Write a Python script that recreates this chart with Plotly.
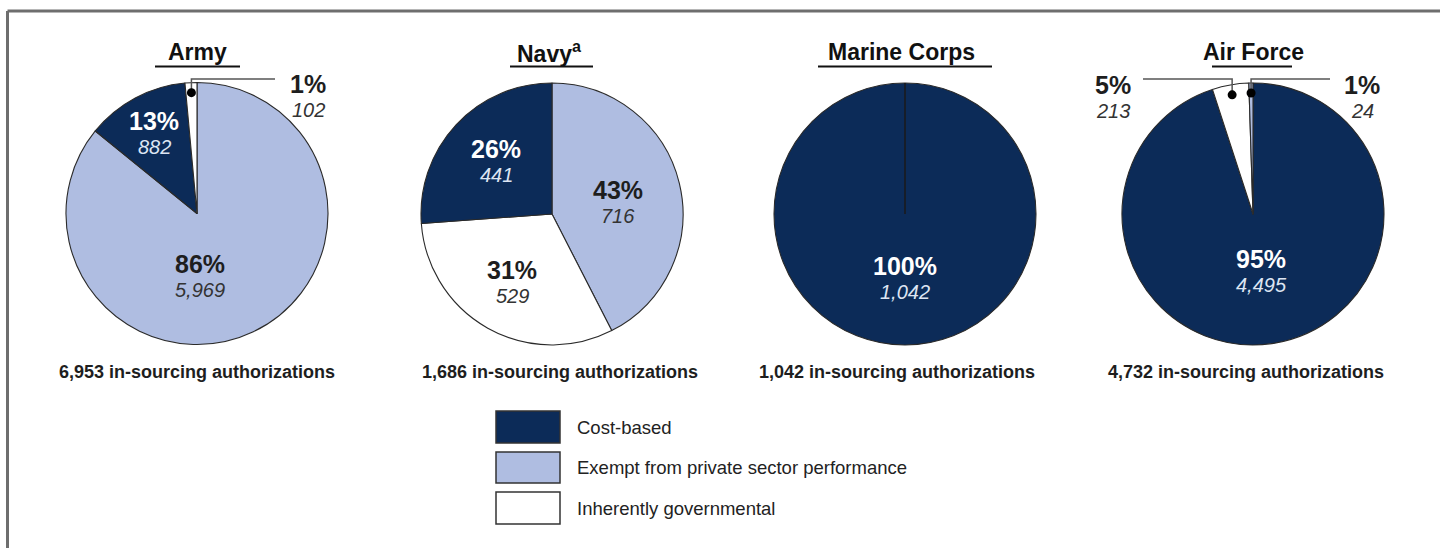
import math
import plotly.graph_objects as go

# ---------------- data ----------------
services = ["Army", "Navy", "Marine Corps", "Air Force"]
title_labels = ["Army", "Navy<sup>a</sup>", "Marine Corps", "Air Force"]
categories = ["Cost-based", "Exempt from private sector performance", "Inherently governmental"]
cost_based = [882, 441, 1042, 4495]
exempt = [5969, 716, 0, 24]
inherent = [102, 529, 0, 213]
totals = [6953, 1686, 1042, 4732]
cost_pct = [13, 26, 100, 95]
exempt_pct = [86, 43, 0, 1]
inherent_pct = [1, 31, 0, 5]
# slice order, counterclockwise starting at 12 o'clock
slice_order = [
    ["Inherently governmental", "Cost-based", "Exempt from private sector performance"],
    ["Cost-based", "Inherently governmental", "Exempt from private sector performance"],
    ["Cost-based"],
    ["Exempt from private sector performance", "Inherently governmental", "Cost-based"],
]

# ---------------- styling / layout ----------------
W, H = 1440, 548
FONT = "Arial, Liberation Sans, sans-serif"
colors = {"Cost-based": "#0c2b58",
          "Exempt from private sector performance": "#afbde1",
          "Inherently governmental": "#ffffff"}
dark_cats = {"Cost-based"}
centers = [(197, 213.5), (552, 214), (905, 214), (1253, 214)]
R = 131
title_x = [197, 549, 901, 1253]
underline = [(155, 240), (510, 593), (818, 992), (1212, 1292)]
bottom_x = [197, 560, 897, 1246]
# label positions (pixel centres of percentage text)
label_pos = [
    {"Cost-based": (154, 121), "Exempt from private sector performance": (200, 264),
     "Inherently governmental": (308, 84)},
    {"Cost-based": (496, 149), "Exempt from private sector performance": (618, 190),
     "Inherently governmental": (512, 270)},
    {"Cost-based": (905, 266)},
    {"Cost-based": (1261, 259), "Exempt from private sector performance": (1362, 85),
     "Inherently governmental": (1113, 85)},
]
# leader lines: category -> x end of horizontal line
leaders = [
    {"Inherently governmental": 275},
    {},
    {},
    {"Inherently governmental": 1143, "Exempt from private sector performance": 1330},
]
LEADER_Y = 79


def px(x):
    return x / W


def py(y):
    return 1 - y / H


values_by_cat = {"Cost-based": cost_based,
                 "Exempt from private sector performance": exempt,
                 "Inherently governmental": inherent}
pct_by_cat = {"Cost-based": cost_pct,
              "Exempt from private sector performance": exempt_pct,
              "Inherently governmental": inherent_pct}

fig = go.Figure()
shapes = []
annotations = []

for i, svc in enumerate(services):
    cx, cy = centers[i]
    order = slice_order[i]
    vals = [values_by_cat[c][i] for c in order]
    # plotly: clockwise from 12 o'clock with reversed order == counterclockwise order from 12
    cw_order = order[::-1]
    cw_vals = vals[::-1]
    fig.add_trace(go.Pie(
        labels=cw_order, values=cw_vals, sort=False, direction="clockwise", rotation=0,
        marker=dict(colors=[colors[c] for c in cw_order], line=dict(color="#2a2a2a", width=1.1)),
        textinfo="none", showlegend=False, name=svc,
        domain=dict(x=[px(cx - R), px(cx + R)], y=[py(cy + R), py(cy - R)]),
        hovertemplate="%{label}: %{value}<extra>" + svc + "</extra>",
    ))
    if len(order) == 1:
        shapes.append(dict(type="line", xref="paper", yref="paper",
                           x0=px(cx), y0=py(cy), x1=px(cx), y1=py(cy - R),
                           line=dict(color="#1a1a1a", width=1.5)))

    # title + underline
    annotations.append(dict(text=title_labels[i], x=px(title_x[i]), y=py(52), xref="paper", yref="paper",
                            showarrow=False, xanchor="center", yanchor="middle",
                            font=dict(family=FONT, size=23, color="#111111", weight="bold")))
    u0, u1 = underline[i]
    shapes.append(dict(type="line", xref="paper", yref="paper", x0=px(u0), x1=px(u1),
                       y0=py(66.5), y1=py(66.5), line=dict(color="#111111", width=2)))

    # bottom caption
    annotations.append(dict(text=f"{totals[i]:,} in-sourcing authorizations", x=px(bottom_x[i]), y=py(372),
                            xref="paper", yref="paper", showarrow=False, xanchor="center", yanchor="middle",
                            font=dict(family=FONT, size=18, color="#1e1e1e", weight="bold")))

    # slice labels
    total = sum(vals)
    start = 0.0
    for c, v in zip(order, vals):
        frac = v / total
        mid = (start + frac / 2) * 2 * math.pi  # counterclockwise from 12 o'clock
        start += frac
        pos = label_pos[i].get(c)
        if pos is None or v == 0:
            continue
        on_dark = c in dark_cats and c not in leaders[i]
        pc = "#ffffff" if on_dark else "#1e1e1e"
        nc = "#dde5f3" if on_dark else "#333333"
        lx, ly = pos
        annotations.append(dict(text=f"{pct_by_cat[c][i]}%", x=px(lx), y=py(ly), xref="paper", yref="paper",
                                showarrow=False, xanchor="center", yanchor="middle",
                                font=dict(family=FONT, size=25, color=pc, weight="bold")))
        annotations.append(dict(text=f"{v:,}", x=px(lx), y=py(ly + 26), xref="paper", yref="paper",
                                showarrow=False, xanchor="center", yanchor="middle",
                                font=dict(family=FONT, size=20, color=nc, style="italic")))
        if c in leaders[i]:
            dx = cx - (R - 10) * math.sin(mid)
            dy = cy - (R - 10) * math.cos(mid)
            xe = leaders[i][c]
            shapes.append(dict(type="path", xref="paper", yref="paper",
                               path=f"M {px(xe)} {py(LEADER_Y)} L {px(dx)} {py(LEADER_Y)} L {px(dx)} {py(dy)}",
                               line=dict(color="#555555", width=1.5)))
            rd = 4.5
            shapes.append(dict(type="circle", xref="paper", yref="paper",
                               x0=px(dx - rd), x1=px(dx + rd), y0=py(dy + rd), y1=py(dy - rd),
                               fillcolor="#000000", line=dict(color="#000000", width=0)))

# legend
legend_box_x = (496, 560)
legend_rows_y = [(411, 443), (452, 483), (492, 524)]
for c, (y0, y1) in zip(categories, legend_rows_y):
    shapes.append(dict(type="rect", xref="paper", yref="paper",
                       x0=px(legend_box_x[0]), x1=px(legend_box_x[1]), y0=py(y1), y1=py(y0),
                       fillcolor=colors[c], line=dict(color="#333333", width=1.5)))
    annotations.append(dict(text=c, x=px(575), y=py((y0 + y1) / 2), xref="paper", yref="paper",
                            showarrow=False, xanchor="left", yanchor="middle",
                            font=dict(family=FONT, size=18.5, color="#222222")))

# frame (top and left edges)
shapes.append(dict(type="line", xref="paper", yref="paper", x0=px(7.5), x1=1, y0=py(11), y1=py(11),
                   line=dict(color="#6e6e6e", width=3)))
shapes.append(dict(type="line", xref="paper", yref="paper", x0=px(7.5), x1=px(7.5), y0=0, y1=py(11),
                   line=dict(color="#6e6e6e", width=3)))

fig.update_layout(
    width=W, height=H, margin=dict(l=0, r=0, t=0, b=0),
    paper_bgcolor="#ffffff", plot_bgcolor="#ffffff",
    shapes=shapes, annotations=annotations, showlegend=False,
    font=dict(family=FONT),
)

fig.write_html("out.html", config={"displayModeBar": False},
               post_script="document.body.style.margin='0';document.body.style.overflow='hidden';")
